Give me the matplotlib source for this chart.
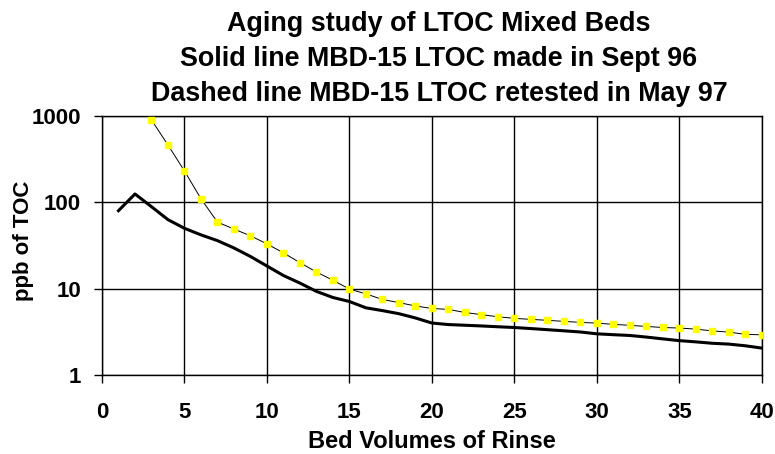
import matplotlib
matplotlib.use('Agg')
import matplotlib.pyplot as plt
from matplotlib.ticker import FixedLocator, NullLocator

plt.rcParams['font.family'] = ['Liberation Sans', 'DejaVu Sans']

# solid line - made Sept 96
sept_x = [1, 2, 3, 4, 5, 6, 7, 8, 9, 10, 11, 12, 13, 14, 15, 16, 17, 18, 19, 20,
          21, 22, 23, 24, 25, 26, 27, 28, 29, 30, 31, 32, 33, 34, 35, 36, 37, 38, 39, 40]
sept_toc = [80, 125, 89, 63, 50, 42, 36, 29.6, 23.6, 18.3, 14.2, 11.6, 9.3, 7.9, 7.1,
            6.0, 5.57, 5.13, 4.58, 4.0, 3.84, 3.77, 3.7, 3.62, 3.55, 3.45, 3.35, 3.25,
            3.15, 3.0, 2.93, 2.87, 2.75, 2.62, 2.5, 2.42, 2.33, 2.28, 2.18, 2.05]

# dashed (yellow squares) - retested May 97
may_x = list(range(3, 41))
may_toc = [900, 461, 231, 110, 59, 49, 41, 33, 26, 20, 15.6, 12.5, 9.9, 8.7, 7.5,
           6.9, 6.3, 5.9, 5.75, 5.3, 5.0, 4.73, 4.53, 4.41, 4.3, 4.18, 4.07, 3.99,
           3.86, 3.76, 3.65, 3.55, 3.5, 3.4, 3.24, 3.14, 2.96, 2.92]

xticks = [0, 5, 10, 15, 20, 25, 30, 35, 40]
yticks = [1, 10, 100, 1000]
ytick_labels = ['1', '10', '100', '1000']

fig = plt.figure(figsize=(7.75, 4.54), dpi=100)
ax = fig.add_axes([0.1316, 0.174, 0.8514, 0.5705])

ax.plot(sept_x, sept_toc, color='black', linewidth=2.2, zorder=3)
ax.plot(may_x, may_toc, color='black', linewidth=0.7, marker='s', markersize=4.6,
        markerfacecolor='#ffff00', markeredgecolor='#ffff00', zorder=4)

ax.set_yscale('log')
ax.set_xlim(0, 40)
ax.set_ylim(1, 1000)
ax.xaxis.set_major_locator(FixedLocator(xticks))
ax.yaxis.set_major_locator(FixedLocator(yticks))
ax.yaxis.set_minor_locator(NullLocator())
ax.set_xticklabels([str(t) for t in xticks], fontweight='bold', fontsize=16)
ax.set_yticklabels(ytick_labels, fontweight='bold', fontsize=16)
ax.tick_params(direction='out', length=5.5, width=1)
ax.tick_params(axis='x', pad=14)
ax.tick_params(axis='y', pad=9.5)

ax.grid(True, which='major', color='black', linewidth=1)
for s in ax.spines.values():
    s.set_linewidth(1)

fig.text(0.557, 0.0132, 'Bed Volumes of Rinse', fontweight='bold', fontsize=17,
         ha='center', va='baseline')
fig.text(0.0297, 0.47, 'ppb of TOC', fontweight='bold', fontsize=16,
         rotation=90, ha='center', va='center')
fig.text(0.5665, 0.976, 'Aging study of LTOC Mixed Beds\nSolid line MBD-15 LTOC made in Sept 96\n'
         'Dashed line MBD-15 LTOC retested in May 97',
         fontweight='bold', fontsize=19.4, linespacing=1.45, ha='center', va='top')

fig.savefig('out.png', dpi=100)
